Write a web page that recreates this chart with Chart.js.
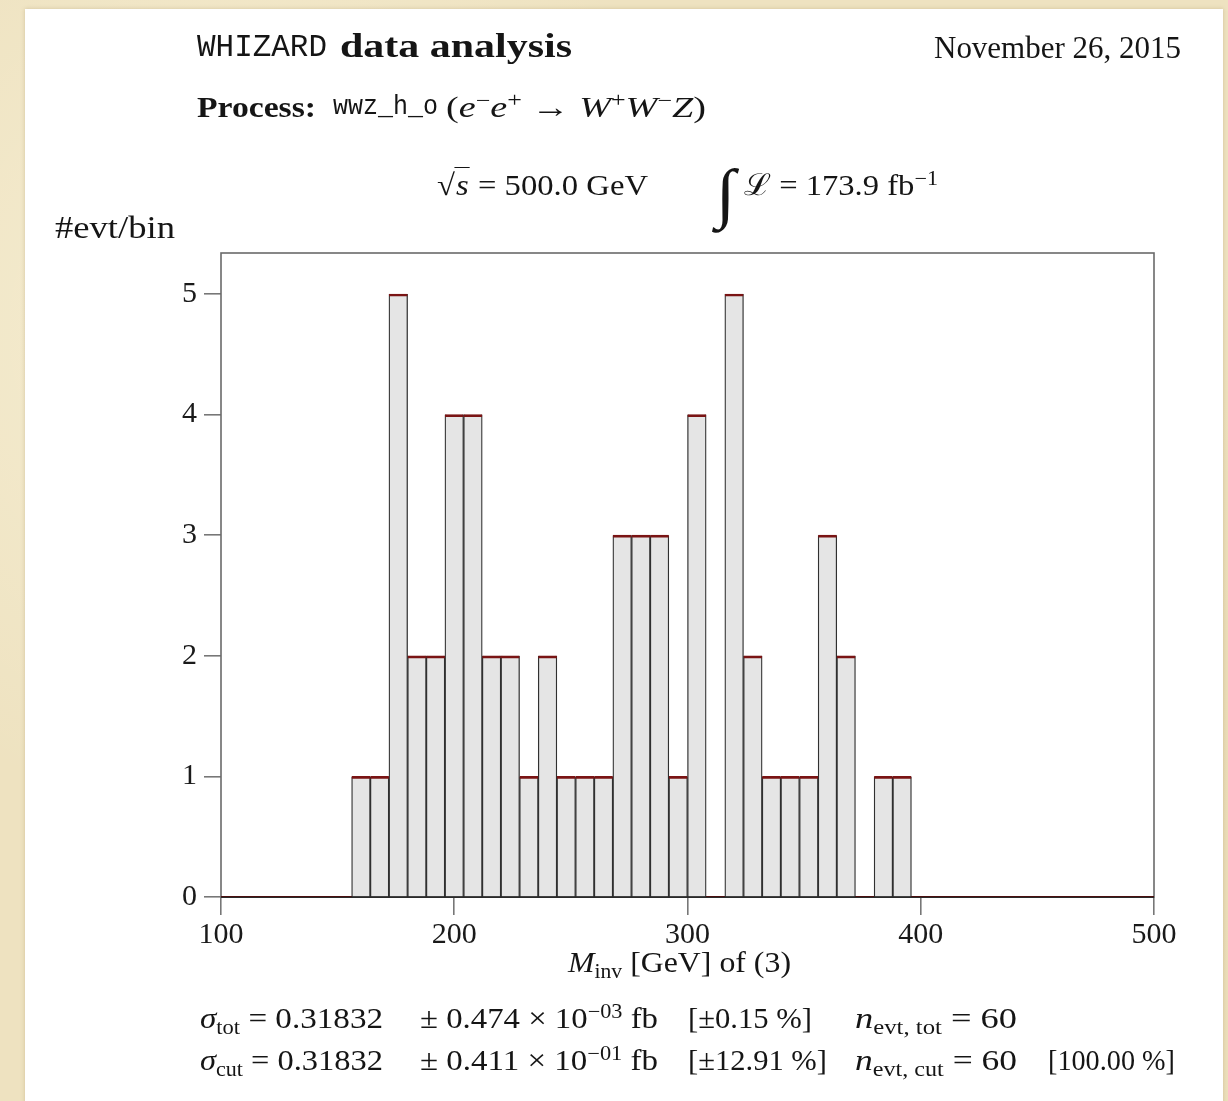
<!DOCTYPE html>
<html>
<head>
<meta charset="utf-8">
<title>WHIZARD data analysis</title>
<script src="https://cdn.jsdelivr.net/npm/chart.js@4.4.1/dist/chart.umd.min.js"></script>
<style>
  html, body { margin: 0; padding: 0; }
  body {
    width: 1228px; height: 1101px; overflow: hidden; position: relative;
    background:
      radial-gradient(circle at 20% 30%, rgba(255,250,230,.5), rgba(255,250,230,0) 40%),
      radial-gradient(circle at 80% 70%, rgba(225,205,160,.45), rgba(225,205,160,0) 45%),
      #eee2c0;
    font-family: 'Liberation Serif', 'Times New Roman', serif;
    color: #151515;
  }
  #sheet {
    position: absolute; left: 25px; top: 9px; width: 1198px; height: 1110px;
    background: #fff; box-shadow: 0 0 4px rgba(140,115,60,.3);
  }
  #wrap { position: absolute; left: 0; top: 0; width: 1228px; height: 1101px; }
  .t { position: absolute; white-space: nowrap; line-height: 1; font-size: 30px; transform-origin: left top; }
  .tt { font-family: 'Liberation Mono', 'DejaVu Sans Mono', monospace; }
  sup, sub { font-size: 0.68em; line-height: 0; }
  sup { vertical-align: 0.48em; }
  sub { vertical-align: -0.28em; }
  .big { font-size: 2.2em; vertical-align: -0.3em; line-height: 0; }
  .ov { border-top: 1.5px solid #151515; padding: 0 1px; }
</style>
</head>
<body>
<div id="sheet"></div>
<div id="wrap"><canvas id="c"></canvas></div>

<div class="t tt" data-x="197" data-b="58" data-w="130" style="font-size:31px">WHIZARD</div>
<div class="t" data-x="340" data-b="58" data-w="232" style="font-size:34px;font-weight:bold">data analysis</div>
<div class="t" data-r="1181" data-b="58" data-w="247" style="font-size:31px">November 26, 2015</div>

<div class="t" data-x="197" data-b="117" data-w="119" style="font-weight:bold">Process:</div>
<div class="t tt" data-x="333" data-b="117" data-w="105" style="font-size:28px">wwz_h_o</div>
<div class="t" data-x="446" data-b="117" data-w="260">(<i>e</i><sup>&minus;</sup><i>e</i><sup>+</sup> &rarr; <i>W</i><sup>+</sup><i>W</i><sup>&minus;</sup><i>Z</i>)</div>

<div class="t" data-x="437" data-b="195" data-w="211">&radic;<span class="ov"><i>s</i></span> = 500.0 GeV</div>
<div class="t" data-x="716" data-b="195" data-w="222"><span class="big"><i>&int;</i></span> &Lscr; = 173.9 fb<sup>&minus;1</sup></div>

<div class="t" data-x="55" data-b="238" data-w="120" style="font-size:31px">#evt/bin</div>

<div class="t" data-x="568" data-b="972" data-w="223"><i>M</i><sub>inv</sub> [GeV] of (3)</div>

<div class="t" data-x="200" data-b="1028" data-w="183"><i>&sigma;</i><sub>tot</sub> = 0.31832</div>
<div class="t" data-x="420" data-b="1028" data-w="238">&plusmn; 0.474 &times; 10<sup>&minus;03</sup> fb</div>
<div class="t" data-x="688" data-b="1028" data-w="124">[&plusmn;0.15 %]</div>
<div class="t" data-x="855" data-b="1028" data-w="162"><i>n</i><sub>evt, tot</sub> = 60</div>

<div class="t" data-x="200" data-b="1070" data-w="183"><i>&sigma;</i><sub>cut</sub> = 0.31832</div>
<div class="t" data-x="420" data-b="1070" data-w="238">&plusmn; 0.411 &times; 10<sup>&minus;01</sup> fb</div>
<div class="t" data-x="688" data-b="1070" data-w="139">[&plusmn;12.91 %]</div>
<div class="t" data-x="855" data-b="1070" data-w="162"><i>n</i><sub>evt, cut</sub> = 60</div>
<div class="t" data-x="1048" data-b="1070" data-w="127">[100.00 %]</div>

<script>
// histogram of M_inv, 50 bins of 8 GeV between 100 and 500
const binEdges = [100, 108, 116, 124, 132, 140, 148, 156, 164, 172, 180, 188, 196, 204, 212,
  220, 228, 236, 244, 252, 260, 268, 276, 284, 292, 300, 308, 316, 324, 332, 340, 348, 356,
  364, 372, 380, 388, 396, 404, 412, 420, 428, 436, 444, 452, 460, 468, 476, 484, 492, 500];
const counts = [0, 0, 0, 0, 0, 0, 0,
  1, 1, 5, 2, 2, 4, 4, 2, 2, 1, 2, 1, 1, 1, 3, 3, 3, 1, 4, 0, 5, 2, 1, 1, 1, 3, 2, 0, 1, 1,
  0, 0, 0, 0, 0, 0, 0, 0, 0, 0, 0, 0, 0];
const xTicks = [100, 200, 300, 400, 500];
const yTicks = [0, 1, 2, 3, 4, 5];

const FONT = "'Liberation Serif', 'Times New Roman', serif";
const RED = '#7a1414';

// place the html labels on their baselines and stretch them to the measured widths
function placeText() {
  document.querySelectorAll('.t').forEach(el => {
    const fs = parseFloat(getComputedStyle(el).fontSize);
    el.style.left = (el.dataset.x || 0) + 'px';
    el.style.top = (+el.dataset.b - 0.84 * fs) + 'px';
    const w = el.getBoundingClientRect().width;
    const target = +el.dataset.w;
    if (el.dataset.r) el.style.left = (+el.dataset.r - target) + 'px';
    el.style.transform = `scaleX(${(target / w).toFixed(4)})`;
  });
}

const bins = counts.map((n, i) => ({
  lo: binEdges[i], hi: binEdges[i + 1], x: (binEdges[i] + binEdges[i + 1]) / 2, y: n,
}));

// step outline at zero for the empty bins
const zeroLine = [];
bins.forEach(b => {
  if (b.y === 0) zeroLine.push({ x: b.lo, y: 0 }, { x: b.hi, y: 0 });
  else zeroLine.push({ x: b.x, y: null });
});

const frame = {
  id: 'frame',
  beforeDatasetsDraw(chart) {
    const { ctx, chartArea: a } = chart;
    ctx.save();
    ctx.strokeStyle = '#6a6a6a';
    ctx.lineWidth = 1.6;
    ctx.strokeRect(a.left, a.top, a.right - a.left, a.bottom - a.top);
    ctx.strokeStyle = '#2a2a2a';
    ctx.lineWidth = 2;
    ctx.beginPath();
    ctx.moveTo(a.left, a.bottom);
    ctx.lineTo(a.right, a.bottom);
    ctx.stroke();
    ctx.restore();
  },
};

function makeChart() {
  const ctx = document.getElementById('c').getContext('2d');
  new Chart(ctx, {
    type: 'bar',
    data: {
      datasets: [
        {
          type: 'bar',
          data: bins.map(b => ({ x: b.x, y: b.y })),
          backgroundColor: '#e5e5e5',
          borderColor: '#303030',
          borderWidth: { top: 0, bottom: 0, left: 1.3, right: 1.3 },
          borderSkipped: false,
          barPercentage: 1,
          categoryPercentage: 1,
          grouped: false,
          order: 2,
        },
        {
          type: 'bar',
          data: bins.map(b => ({ x: b.x, y: b.y })),
          backgroundColor: 'rgba(0,0,0,0)',
          borderColor: RED,
          borderWidth: { top: 2, bottom: 0, left: 0, right: 0 },
          borderSkipped: false,
          barPercentage: 1,
          categoryPercentage: 1,
          grouped: false,
          order: 1,
        },
        {
          type: 'line',
          data: zeroLine,
          borderColor: '#4a1010',
          borderWidth: 2,
          pointRadius: 0,
          spanGaps: false,
          order: 0,
        },
      ],
    },
    options: {
      responsive: true,
      maintainAspectRatio: false,
      animation: false,
      events: [],
      layout: { padding: { top: 253, right: 74, left: 0, bottom: 0 } },
      plugins: { legend: { display: false }, tooltip: { enabled: false } },
      scales: {
        x: {
          type: 'linear',
          min: binEdges[0],
          max: binEdges[binEdges.length - 1],
          offset: false,
          afterFit: s => { s.height = 204; },
          afterBuildTicks: s => { s.ticks = xTicks.map(v => ({ value: v })); },
          grid: { drawOnChartArea: false, drawTicks: true, tickLength: 18, color: '#777', lineWidth: 1.6, offset: false },
          border: { display: false },
          ticks: { color: '#1a1a1a', font: { family: FONT, size: 30 }, padding: 2, maxRotation: 0 },
        },
        y: {
          min: 0,
          max: 5.34,
          afterFit: s => { s.width = 221; },
          afterBuildTicks: s => { s.ticks = yTicks.map(v => ({ value: v })); },
          grid: { drawOnChartArea: false, drawTicks: true, tickLength: 17, color: '#777', lineWidth: 1.6 },
          border: { display: false },
          ticks: { color: '#1a1a1a', font: { family: FONT, size: 30 }, padding: 7 },
        },
      },
    },
    plugins: [frame],
  });
}

placeText();
makeChart();
</script>
</body>
</html>
